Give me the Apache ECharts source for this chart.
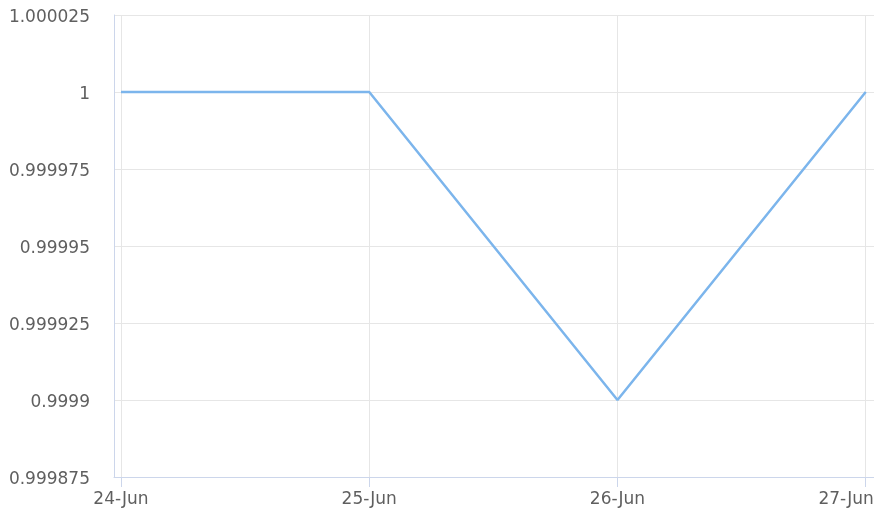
<!DOCTYPE html>
<html>
<head>
<meta charset="utf-8">
<style>
  html, body { margin: 0; padding: 0; background: #ffffff; }
  #chart { width: 874px; height: 508px; }
</style>
<script src="https://cdn.jsdelivr.net/npm/echarts@6/dist/echarts.min.js"></script>
</head>
<body>
<div id="chart"></div>
<script>
// Daily categories and the plotted values
const categories = ['24-Jun', '25-Jun', '26-Jun', '27-Jun'];
const values = [1, 1, 0.9999, 1];

// Y axis scale
const yMin = 0.999875;
const yMax = 1.000025;
const yStep = 0.000025;

// Category positions on a numeric x axis (with a little room on each side)
const positions = categories.map((_, i) => i);
const seriesData = positions.map((p, i) => [p, values[i]]);

const chart = echarts.init(document.getElementById('chart'), null, { renderer: 'canvas' });

const labelFont = {
  color: '#5f5f5f',
  fontFamily: 'DejaVu Sans',
  fontSize: 17
};

chart.setOption({
  animation: false,
  backgroundColor: '#ffffff',
  grid: { left: 114, right: 0, top: 15, bottom: 31, containLabel: false, outerBoundsMode: 'none' },
  xAxis: {
    type: 'value',
    min: -0.0282,
    max: 3.0334,
    axisLine: { show: true, onZero: false, lineStyle: { color: '#ccd6eb', width: 1 } },
    axisTick: { show: true, length: 10, customValues: positions, lineStyle: { color: '#ccd6eb', width: 1 } },
    axisLabel: Object.assign({
      customValues: positions,
      margin: 14,
      alignMaxLabel: 'right',
      formatter: v => {
        const i = Math.round(v);
        return i === categories.length - 1 ? '{last|' + categories[i] + '}' : categories[i];
      },
      rich: {
        last: Object.assign({ padding: [0, -8, 0, 0] }, labelFont)
      }
    }, labelFont),
    splitLine: { show: true, lineStyle: { color: '#e6e6e6', width: 1 } }
  },
  yAxis: {
    type: 'value',
    min: yMin,
    max: yMax,
    interval: yStep,
    axisLine: { show: true, onZero: false, lineStyle: { color: '#ccd6eb', width: 1 } },
    axisTick: { show: false },
    axisLabel: Object.assign({
      margin: 24,
      formatter: v => '{v|' + String(+v.toFixed(6)) + '}',
      rich: {
        v: Object.assign({ padding: [6, 0, 0, 0] }, labelFont)
      }
    }, labelFont),
    splitLine: { show: true, lineStyle: { color: '#e6e6e6', width: 1 } }
  },
  series: [{
    type: 'line',
    data: seriesData,
    showSymbol: false,
    symbol: 'none',
    lineStyle: { color: '#7cb5ec', width: 2.5 },
    itemStyle: { color: '#7cb5ec' }
  }]
});
</script>
</body>
</html>
